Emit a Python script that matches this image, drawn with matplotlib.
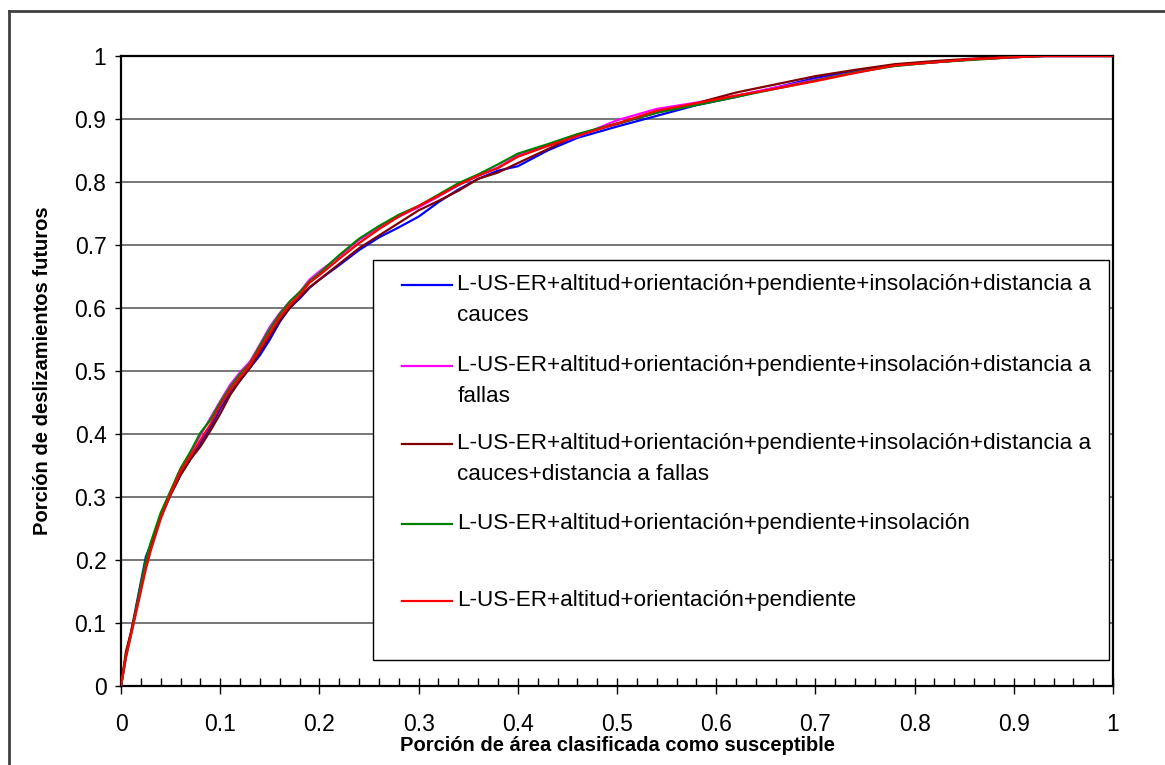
#!/usr/bin/env python3
import matplotlib
matplotlib.use("Agg")
import matplotlib.pyplot as plt
from matplotlib.lines import Line2D
from matplotlib.patches import Rectangle
from matplotlib.ticker import MultipleLocator

plt.rcParams['font.family'] = ['Liberation Sans', 'DejaVu Sans']

# Portion of area (x) shared by all curves
area = [0, 0.005, 0.01, 0.015, 0.02, 0.025, 0.03, 0.04, 0.05, 0.06,
        0.07, 0.08, 0.09, 0.10, 0.11, 0.12, 0.13, 0.14, 0.15, 0.16,
        0.17, 0.18, 0.19, 0.20, 0.22, 0.24, 0.26, 0.28, 0.30, 0.32,
        0.34, 0.36, 0.38, 0.40, 0.43, 0.46, 0.50, 0.54, 0.58, 0.62,
        0.66, 0.70, 0.74, 0.78, 0.82, 0.86, 0.90, 0.93, 0.96, 1.0]

cauces = [0, 0.05, 0.085, 0.125, 0.165, 0.205, 0.225, 0.27, 0.305, 0.335,
          0.36, 0.385, 0.41, 0.44, 0.465, 0.485, 0.505, 0.525, 0.55, 0.578,
          0.6, 0.615, 0.632, 0.645, 0.668, 0.692, 0.712, 0.728, 0.745, 0.768,
          0.788, 0.805, 0.818, 0.825, 0.85, 0.87, 0.888, 0.905, 0.922, 0.935,
          0.95, 0.965, 0.976, 0.985, 0.99, 0.995, 0.998, 1.0, 1.0, 1.0]

fallas = [0, 0.048, 0.082, 0.118, 0.155, 0.19, 0.22, 0.27, 0.308, 0.345,
          0.37, 0.398, 0.425, 0.452, 0.478, 0.498, 0.515, 0.542, 0.57, 0.592,
          0.61, 0.625, 0.645, 0.658, 0.682, 0.708, 0.728, 0.745, 0.76, 0.777,
          0.795, 0.81, 0.823, 0.842, 0.858, 0.872, 0.898, 0.916, 0.926, 0.937,
          0.95, 0.962, 0.974, 0.986, 0.99, 0.995, 0.998, 1.0, 1.0, 1.0]

cauces_fallas = [0, 0.055, 0.085, 0.12, 0.158, 0.195, 0.222, 0.268, 0.303, 0.335,
                 0.36, 0.38, 0.405, 0.432, 0.462, 0.485, 0.505, 0.53, 0.555, 0.58,
                 0.6, 0.617, 0.633, 0.645, 0.67, 0.695, 0.715, 0.735, 0.755, 0.77,
                 0.786, 0.805, 0.815, 0.83, 0.852, 0.875, 0.892, 0.91, 0.925, 0.942,
                 0.955, 0.968, 0.978, 0.987, 0.992, 0.996, 0.999, 1.0, 1.0, 1.0]

insolacion = [0, 0.048, 0.082, 0.12, 0.16, 0.2, 0.228, 0.275, 0.31, 0.345,
              0.372, 0.402, 0.422, 0.45, 0.474, 0.495, 0.512, 0.54, 0.566, 0.59,
              0.61, 0.625, 0.642, 0.655, 0.684, 0.71, 0.73, 0.748, 0.762, 0.78,
              0.798, 0.812, 0.828, 0.845, 0.86, 0.876, 0.893, 0.91, 0.922, 0.935,
              0.948, 0.961, 0.974, 0.984, 0.99, 0.994, 0.998, 1.0, 1.0, 1.0]

pendiente = [0, 0.045, 0.08, 0.115, 0.15, 0.185, 0.215, 0.265, 0.305, 0.34,
             0.365, 0.39, 0.415, 0.445, 0.47, 0.49, 0.51, 0.535, 0.56, 0.585,
             0.605, 0.62, 0.64, 0.652, 0.678, 0.703, 0.725, 0.745, 0.762, 0.778,
             0.795, 0.81, 0.822, 0.84, 0.857, 0.873, 0.893, 0.913, 0.925, 0.937,
             0.948, 0.96, 0.973, 0.985, 0.99, 0.995, 0.998, 1.0, 1.0, 1.0]

labels = [
    "L-US-ER+altitud+orientación+pendiente+insolación+distancia a\ncauces",
    "L-US-ER+altitud+orientación+pendiente+insolación+distancia a\nfallas",
    "L-US-ER+altitud+orientación+pendiente+insolación+distancia a\ncauces+distancia a fallas",
    "L-US-ER+altitud+orientación+pendiente+insolación",
    "L-US-ER+altitud+orientación+pendiente",
]
series = [cauces, fallas, cauces_fallas, insolacion, pendiente]
colors = ['#0000FF', '#FF00FF', '#800000', '#008000', '#FF0000']

fig = plt.figure(figsize=(11.65, 7.65), dpi=100)
ax = fig.add_axes([0.1039, 0.1033, 0.8515, 0.8235])

# gridlines like Excel
for g in [0.1, 0.2, 0.3, 0.4, 0.5, 0.6, 0.7, 0.8, 0.9]:
    ax.axhline(g, color='#606060', lw=1.2, zorder=1)

for vals, col in zip(series, colors):
    ax.plot(area, vals, color=col, lw=1.6, zorder=3)

ax.set_xlim(0, 1)
ax.set_ylim(0, 1)
ax.xaxis.set_major_locator(MultipleLocator(0.1))
ax.xaxis.set_minor_locator(MultipleLocator(0.02))
ax.yaxis.set_major_locator(MultipleLocator(0.1))

fmt = lambda v, p: ('%g' % round(v, 1))
ax.xaxis.set_major_formatter(fmt)
ax.yaxis.set_major_formatter(fmt)

ax.tick_params(axis='x', which='major', direction='inout', length=11, width=1, labelsize=16.5, pad=14)
ax.tick_params(axis='x', which='minor', direction='in', length=5.5, width=1)
ax.tick_params(axis='y', which='major', direction='out', length=4.5, width=1, labelsize=16.5, pad=6)

for s in ax.spines.values():
    s.set_linewidth(1.6)
    s.set_color('black')

ax.set_xlabel("Porción de área clasificada como susceptible", fontsize=14.5, fontweight='bold')
ax.set_ylabel("Porción de deslizamientos futuros", fontsize=14.5, fontweight='bold')
ax.xaxis.set_label_coords(0.5, -0.08)
ax.yaxis.set_label_coords(-0.07, 0.5)

# legend box drawn by hand (Excel style)
ax.add_patch(Rectangle((0.254, 0.041), 0.742, 0.635, transform=ax.transAxes,
                       facecolor='white', edgecolor='black', lw=1, zorder=5))
first_line_px = [285, 366, 444, 524, 601]
for lab, col, py in zip(labels, colors, first_line_px):
    y0 = (686 - py) / 630
    ax.add_line(Line2D([0.283, 0.334], [y0, y0], transform=ax.transAxes,
                       color=col, lw=1.6, zorder=6))
    for k, line in enumerate(lab.split("\n")):
        ax.text(0.339, y0 - k * 31 / 630, line, transform=ax.transAxes,
                fontsize=16.2, va='center', ha='left', zorder=6)

# outer chart border (top and left visible)
fig.add_artist(Line2D([9 / 1165, 1], [1 - 11 / 765, 1 - 11 / 765], color='#404040', lw=2))
fig.add_artist(Line2D([9 / 1165, 9 / 1165], [0, 1 - 11 / 765], color='#404040', lw=2))

fig.savefig("out.png", dpi=100)
